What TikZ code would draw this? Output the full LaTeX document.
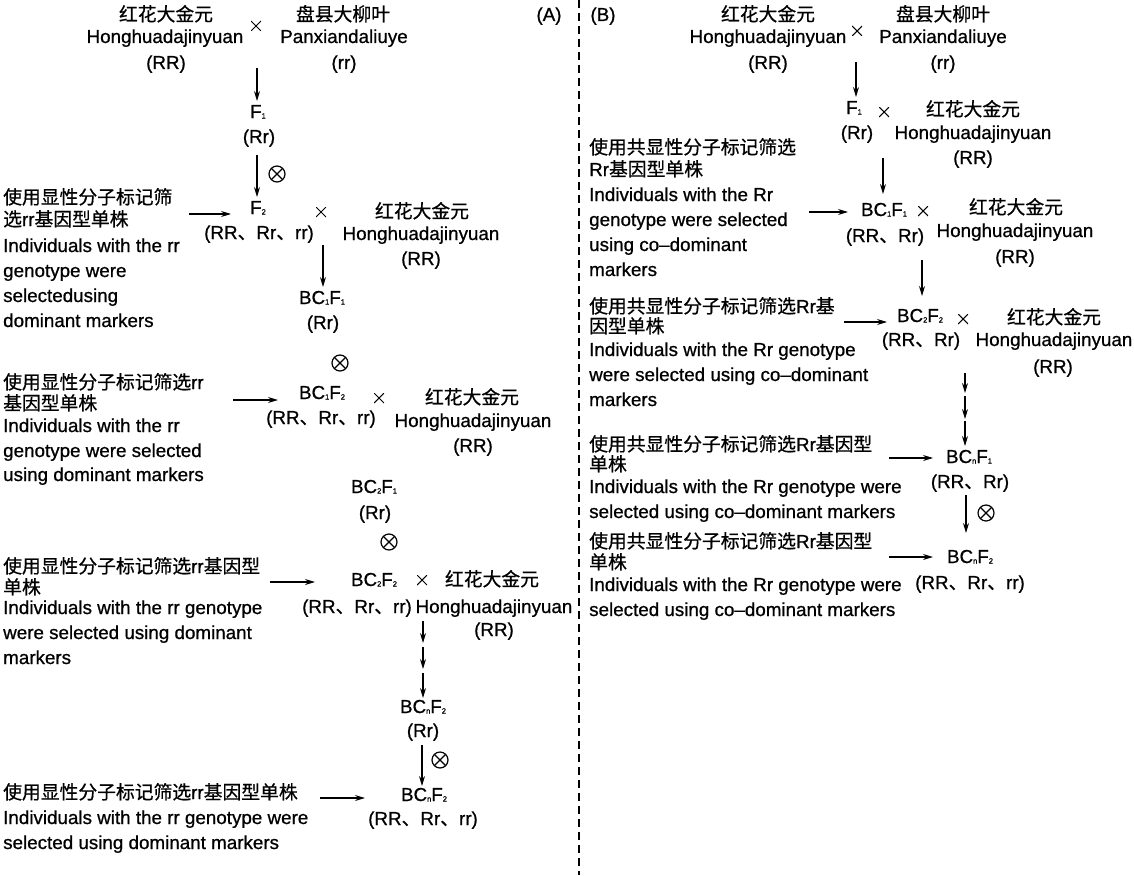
\documentclass[tikz,border=0pt]{standalone}
\usepackage{fontspec}
\setmainfont{Liberation Sans}[FakeBold=0.8]
\newfontfamily\cjk{Noto Sans CJK SC}[FakeBold=0.6]
\usetikzlibrary{arrows.meta}
\newcommand\zhs[1]{{\cjk #1}}
\newcommand\dun{{\cjk 、}}
\newcommand\sbs[1]{\raisebox{-0.5pt}{\fontsize{7.5}{8}\selectfont #1}}
\tikzset{
  txt/.style={inner sep=0pt, text height=12pt, text depth=0pt, font=\fontsize{18.8}{22}\selectfont},
  lt/.style={txt, anchor=west},
  arr/.style={-{Stealth[length=10pt,width=6pt]}, line width=1.1pt},
  sep/.style={line width=1.1pt, dash pattern=on 8pt off 5pt},
  otm/.style={circle, draw, line width=1.2pt, minimum size=16pt, inner sep=0pt,
    path picture={\draw[line width=1.2pt] (path picture bounding box.north west) -- (path picture bounding box.south east)
      (path picture bounding box.north east) -- (path picture bounding box.south west);}},
  crs/.style={minimum size=10pt, inner sep=0pt,
    path picture={\draw[line width=1.05pt] (path picture bounding box.north west) -- (path picture bounding box.south east)
      (path picture bounding box.north east) -- (path picture bounding box.south west);}}
}
\begin{document}
\begin{tikzpicture}[x=1pt,y=-1pt]
\useasboundingbox (0,0) rectangle (1134,875);
% separator
\coordinate (sepT) at (579,0); \coordinate (sepB) at (579,875);
\draw[sep] (sepT) -- (sepB);

%%%%%%%%%%%%%%%% PANEL A
\node[txt] (A-lab) at (549,15) {(A)};
\node[txt] (A-p1zh) at (166,15) {\zhs{红花大金元}};
\node[txt] (A-p1en) at (165,37) {Honghuadajinyuan};
\node[txt] (A-p1g) at (166,63) {(RR)};
\node[crs] (A-x1) at (256,26) {};
\node[txt] (A-p2zh) at (343,15) {\zhs{盘县大柳叶}};
\node[txt] (A-p2en) at (344,37) {Panxiandaliuye};
\node[txt] (A-p2g) at (344,63) {(rr)};
\coordinate (A-a1s) at (257,68); \coordinate (A-a1e) at (257,101);
\draw[arr] (A-a1s) -- (A-a1e);
\node[txt] (A-F1) at (258,112) {F\sbs{1}};
\node[txt] (A-F1g) at (259,137) {(Rr)};
\coordinate (A-a2s) at (257,155); \coordinate (A-a2e) at (257,197);
\draw[arr] (A-a2s) -- (A-a2e);
\node[otm] (A-s1) at (277,174) {};
\node[txt] (A-F2) at (258,208) {F\sbs{2}};
\node[txt] (A-F2g) at (259,233) {(RR\dun Rr\dun rr)};
\node[crs] (A-x2) at (321,212) {};
\node[txt] (A-r2zh) at (422,212) {\zhs{红花大金元}};
\node[txt] (A-r2en) at (421,234) {Honghuadajinyuan};
\node[txt] (A-r2g) at (421,259) {(RR)};
\coordinate (A-a3s) at (323,245); \coordinate (A-a3e) at (323,287);
\draw[arr] (A-a3s) -- (A-a3e);
\node[txt] (A-B11) at (322,298) {BC\sbs{1}F\sbs{1}};
\node[txt] (A-B11g) at (323,323) {(Rr)};
\node[otm] (A-s2) at (340,363) {};
\node[txt] (A-B12) at (322,393) {BC\sbs{1}F\sbs{2}};
\node[txt] (A-B12g) at (321,418) {(RR\dun Rr\dun rr)};
\node[crs] (A-x3) at (379,398) {};
\node[txt] (A-r3zh) at (472,398) {\zhs{红花大金元}};
\node[txt] (A-r3en) at (473,421) {Honghuadajinyuan};
\node[txt] (A-r3g) at (473,446) {(RR)};
\node[txt] (A-B21) at (374,487) {BC\sbs{2}F\sbs{1}};
\node[txt] (A-B21g) at (375,513) {(Rr)};
\node[otm] (A-s3) at (389,542) {};
\node[txt] (A-B22) at (374,580) {BC\sbs{2}F\sbs{2}};
\node[txt] (A-B22g) at (357,607) {(RR\dun Rr\dun rr)};
\node[crs] (A-x4) at (422,580) {};
\node[txt] (A-r4zh) at (492,580) {\zhs{红花大金元}};
\node[txt] (A-r4en) at (494,607) {Honghuadajinyuan};
\node[txt] (A-r4g) at (494,630) {(RR)};
\coordinate (A-d1s) at (423,621); \coordinate (A-d1e) at (423,643);
\coordinate (A-d2s) at (423,647); \coordinate (A-d2e) at (423,669);
\coordinate (A-d3s) at (423,673); \coordinate (A-d3e) at (423,698);
\draw[arr] (A-d1s) -- (A-d1e);
\draw[arr] (A-d2s) -- (A-d2e);
\draw[arr] (A-d3s) -- (A-d3e);
\node[txt] (A-Bn2a) at (423,707) {BC\sbs{n}F\sbs{2}};
\node[txt] (A-Bn2ag) at (423,731) {(Rr)};
\coordinate (A-a5s) at (422,745); \coordinate (A-a5e) at (422,786);
\draw[arr] (A-a5s) -- (A-a5e);
\node[otm] (A-s4) at (440,760) {};
\node[txt] (A-Bn2b) at (424,795) {BC\sbs{n}F\sbs{2}};
\node[txt] (A-Bn2bg) at (423,819) {(RR\dun Rr\dun rr)};

% left texts A
\node[lt] (A-t1a) at (3,198) {\zhs{使用显性分子标记筛}};
\node[lt] (A-t1b) at (3,220) {\zhs{选}rr\zhs{基因型单株}};
\node[lt] (A-t1c) at (3,246) {Individuals with the rr};
\node[lt] (A-t1d) at (3,271) {genotype were};
\node[lt] (A-t1e) at (3,296) {selectedusing};
\node[lt] (A-t1f) at (3,321) {dominant markers};
\coordinate (A-l1s) at (189,214); \coordinate (A-l1e) at (231,214);
\draw[arr] (A-l1s) -- (A-l1e);

\node[lt] (A-t2a) at (3,383) {\zhs{使用显性分子标记筛选}rr};
\node[lt] (A-t2b) at (3,404) {\zhs{基因型单株}};
\node[lt] (A-t2c) at (3,426) {Individuals with the rr};
\node[lt] (A-t2d) at (3,451) {genotype were selected};
\node[lt] (A-t2e) at (3,475) {using dominant markers};
\coordinate (A-l2s) at (233,400); \coordinate (A-l2e) at (278,400);
\draw[arr] (A-l2s) -- (A-l2e);

\node[lt] (A-t3a) at (3,567) {\zhs{使用显性分子标记筛选}rr\zhs{基因型}};
\node[lt] (A-t3b) at (3,588) {\zhs{单株}};
\node[lt] (A-t3c) at (3,608) {Individuals with the rr genotype};
\node[lt] (A-t3d) at (3,633) {were selected using dominant};
\node[lt] (A-t3e) at (3,658) {markers};
\coordinate (A-l3s) at (270,582); \coordinate (A-l3e) at (315,582);
\draw[arr] (A-l3s) -- (A-l3e);

\node[lt] (A-t4a) at (3,793) {\zhs{使用显性分子标记筛选}rr\zhs{基因型单株}};
\node[lt] (A-t4b) at (3,818) {Individuals with the rr genotype were};
\node[lt] (A-t4c) at (3,843) {selected using dominant markers};
\coordinate (A-l4s) at (320,798); \coordinate (A-l4e) at (365,798);
\draw[arr] (A-l4s) -- (A-l4e);

%%%%%%%%%%%%%%%% PANEL B
\node[txt] (B-lab) at (603,15) {(B)};
\node[txt] (B-p1zh) at (768,15) {\zhs{红花大金元}};
\node[txt] (B-p1en) at (768,37) {Honghuadajinyuan};
\node[txt] (B-p1g) at (768,63) {(RR)};
\node[crs] (B-x1) at (857,31) {};
\node[txt] (B-p2zh) at (943,15) {\zhs{盘县大柳叶}};
\node[txt] (B-p2en) at (943,37) {Panxiandaliuye};
\node[txt] (B-p2g) at (943,63) {(rr)};
\coordinate (B-a1s) at (856,62); \coordinate (B-a1e) at (856,97);
\draw[arr] (B-a1s) -- (B-a1e);
\node[txt] (B-F1) at (854,108) {F\sbs{1}};
\node[txt] (B-F1g) at (857,133) {(Rr)};
\node[crs] (B-x2) at (884,112) {};
\node[txt] (B-r2zh) at (973,110) {\zhs{红花大金元}};
\node[txt] (B-r2en) at (973,133) {Honghuadajinyuan};
\node[txt] (B-r2g) at (973,158) {(RR)};
\coordinate (B-a2s) at (883,158); \coordinate (B-a2e) at (883,194);
\draw[arr] (B-a2s) -- (B-a2e);
\node[txt] (B-B11) at (884,210) {BC\sbs{1}F\sbs{1}};
\node[txt] (B-B11g) at (885,236) {(RR\dun Rr)};
\node[crs] (B-x3) at (923,211) {};
\node[txt] (B-r3zh) at (1016,208) {\zhs{红花大金元}};
\node[txt] (B-r3en) at (1015,231) {Honghuadajinyuan};
\node[txt] (B-r3g) at (1015,257) {(RR)};
\coordinate (B-a3s) at (922,260); \coordinate (B-a3e) at (922,296);
\draw[arr] (B-a3s) -- (B-a3e);
\node[txt] (B-B22) at (920,316) {BC\sbs{2}F\sbs{2}};
\node[txt] (B-B22g) at (921,340) {(RR\dun Rr)};
\node[crs] (B-x4) at (963,319) {};
\node[txt] (B-r4zh) at (1054,318) {\zhs{红花大金元}};
\node[txt] (B-r4en) at (1054,340) {Honghuadajinyuan};
\node[txt] (B-r4g) at (1053,367) {(RR)};
\coordinate (B-d1s) at (965,373); \coordinate (B-d1e) at (965,393);
\coordinate (B-d2s) at (965,396); \coordinate (B-d2e) at (965,419);
\coordinate (B-d3s) at (965,421); \coordinate (B-d3e) at (965,446);
\draw[arr] (B-d1s) -- (B-d1e);
\draw[arr] (B-d2s) -- (B-d2e);
\draw[arr] (B-d3s) -- (B-d3e);
\node[txt] (B-Bn1) at (969,457) {BC\sbs{n}F\sbs{1}};
\node[txt] (B-Bn1g) at (970,482) {(RR\dun Rr)};
\coordinate (B-a5s) at (966,495); \coordinate (B-a5e) at (966,533);
\draw[arr] (B-a5s) -- (B-a5e);
\node[otm] (B-s1) at (986,513) {};
\node[txt] (B-Bn2) at (970,557) {BC\sbs{n}F\sbs{2}};
\node[txt] (B-Bn2g) at (970,583) {(RR\dun Rr\dun rr)};

% left texts B
\node[lt] (B-t1a) at (589,148) {\zhs{使用共显性分子标记筛选}};
\node[lt] (B-t1b) at (589,170) {Rr\zhs{基因型单株}};
\node[lt] (B-t1c) at (589,195) {Individuals with the Rr};
\node[lt] (B-t1d) at (589,220) {genotype were selected};
\node[lt] (B-t1e) at (589,245) {using co–dominant};
\node[lt] (B-t1f) at (589,270) {markers};
\coordinate (B-l1s) at (809,212); \coordinate (B-l1e) at (848,212);
\draw[arr] (B-l1s) -- (B-l1e);

\node[lt] (B-t2a) at (589,307) {\zhs{使用共显性分子标记筛选}Rr\zhs{基}};
\node[lt] (B-t2b) at (589,327) {\zhs{因型单株}};
\node[lt] (B-t2c) at (589,350) {Individuals with the Rr genotype};
\node[lt] (B-t2d) at (589,375) {were selected using co–dominant};
\node[lt] (B-t2e) at (589,400) {markers};
\coordinate (B-l2s) at (844,322); \coordinate (B-l2e) at (887,322);
\draw[arr] (B-l2s) -- (B-l2e);

\node[lt] (B-t3a) at (589,445) {\zhs{使用共显性分子标记筛选}Rr\zhs{基因型}};
\node[lt] (B-t3b) at (589,465) {\zhs{单株}};
\node[lt] (B-t3c) at (589,487) {Individuals with the Rr genotype were};
\node[lt] (B-t3d) at (589,512) {selected using co–dominant markers};
\coordinate (B-l3s) at (889,458); \coordinate (B-l3e) at (933,458);
\draw[arr] (B-l3s) -- (B-l3e);

\node[lt] (B-t4a) at (589,542) {\zhs{使用共显性分子标记筛选}Rr\zhs{基因型}};
\node[lt] (B-t4b) at (589,563) {\zhs{单株}};
\node[lt] (B-t4c) at (589,585) {Individuals with the Rr genotype were};
\node[lt] (B-t4d) at (589,610) {selected using co–dominant markers};
\coordinate (B-l4s) at (889,557); \coordinate (B-l4e) at (933,557);
\draw[arr] (B-l4s) -- (B-l4e);
\end{tikzpicture}
\end{document}
